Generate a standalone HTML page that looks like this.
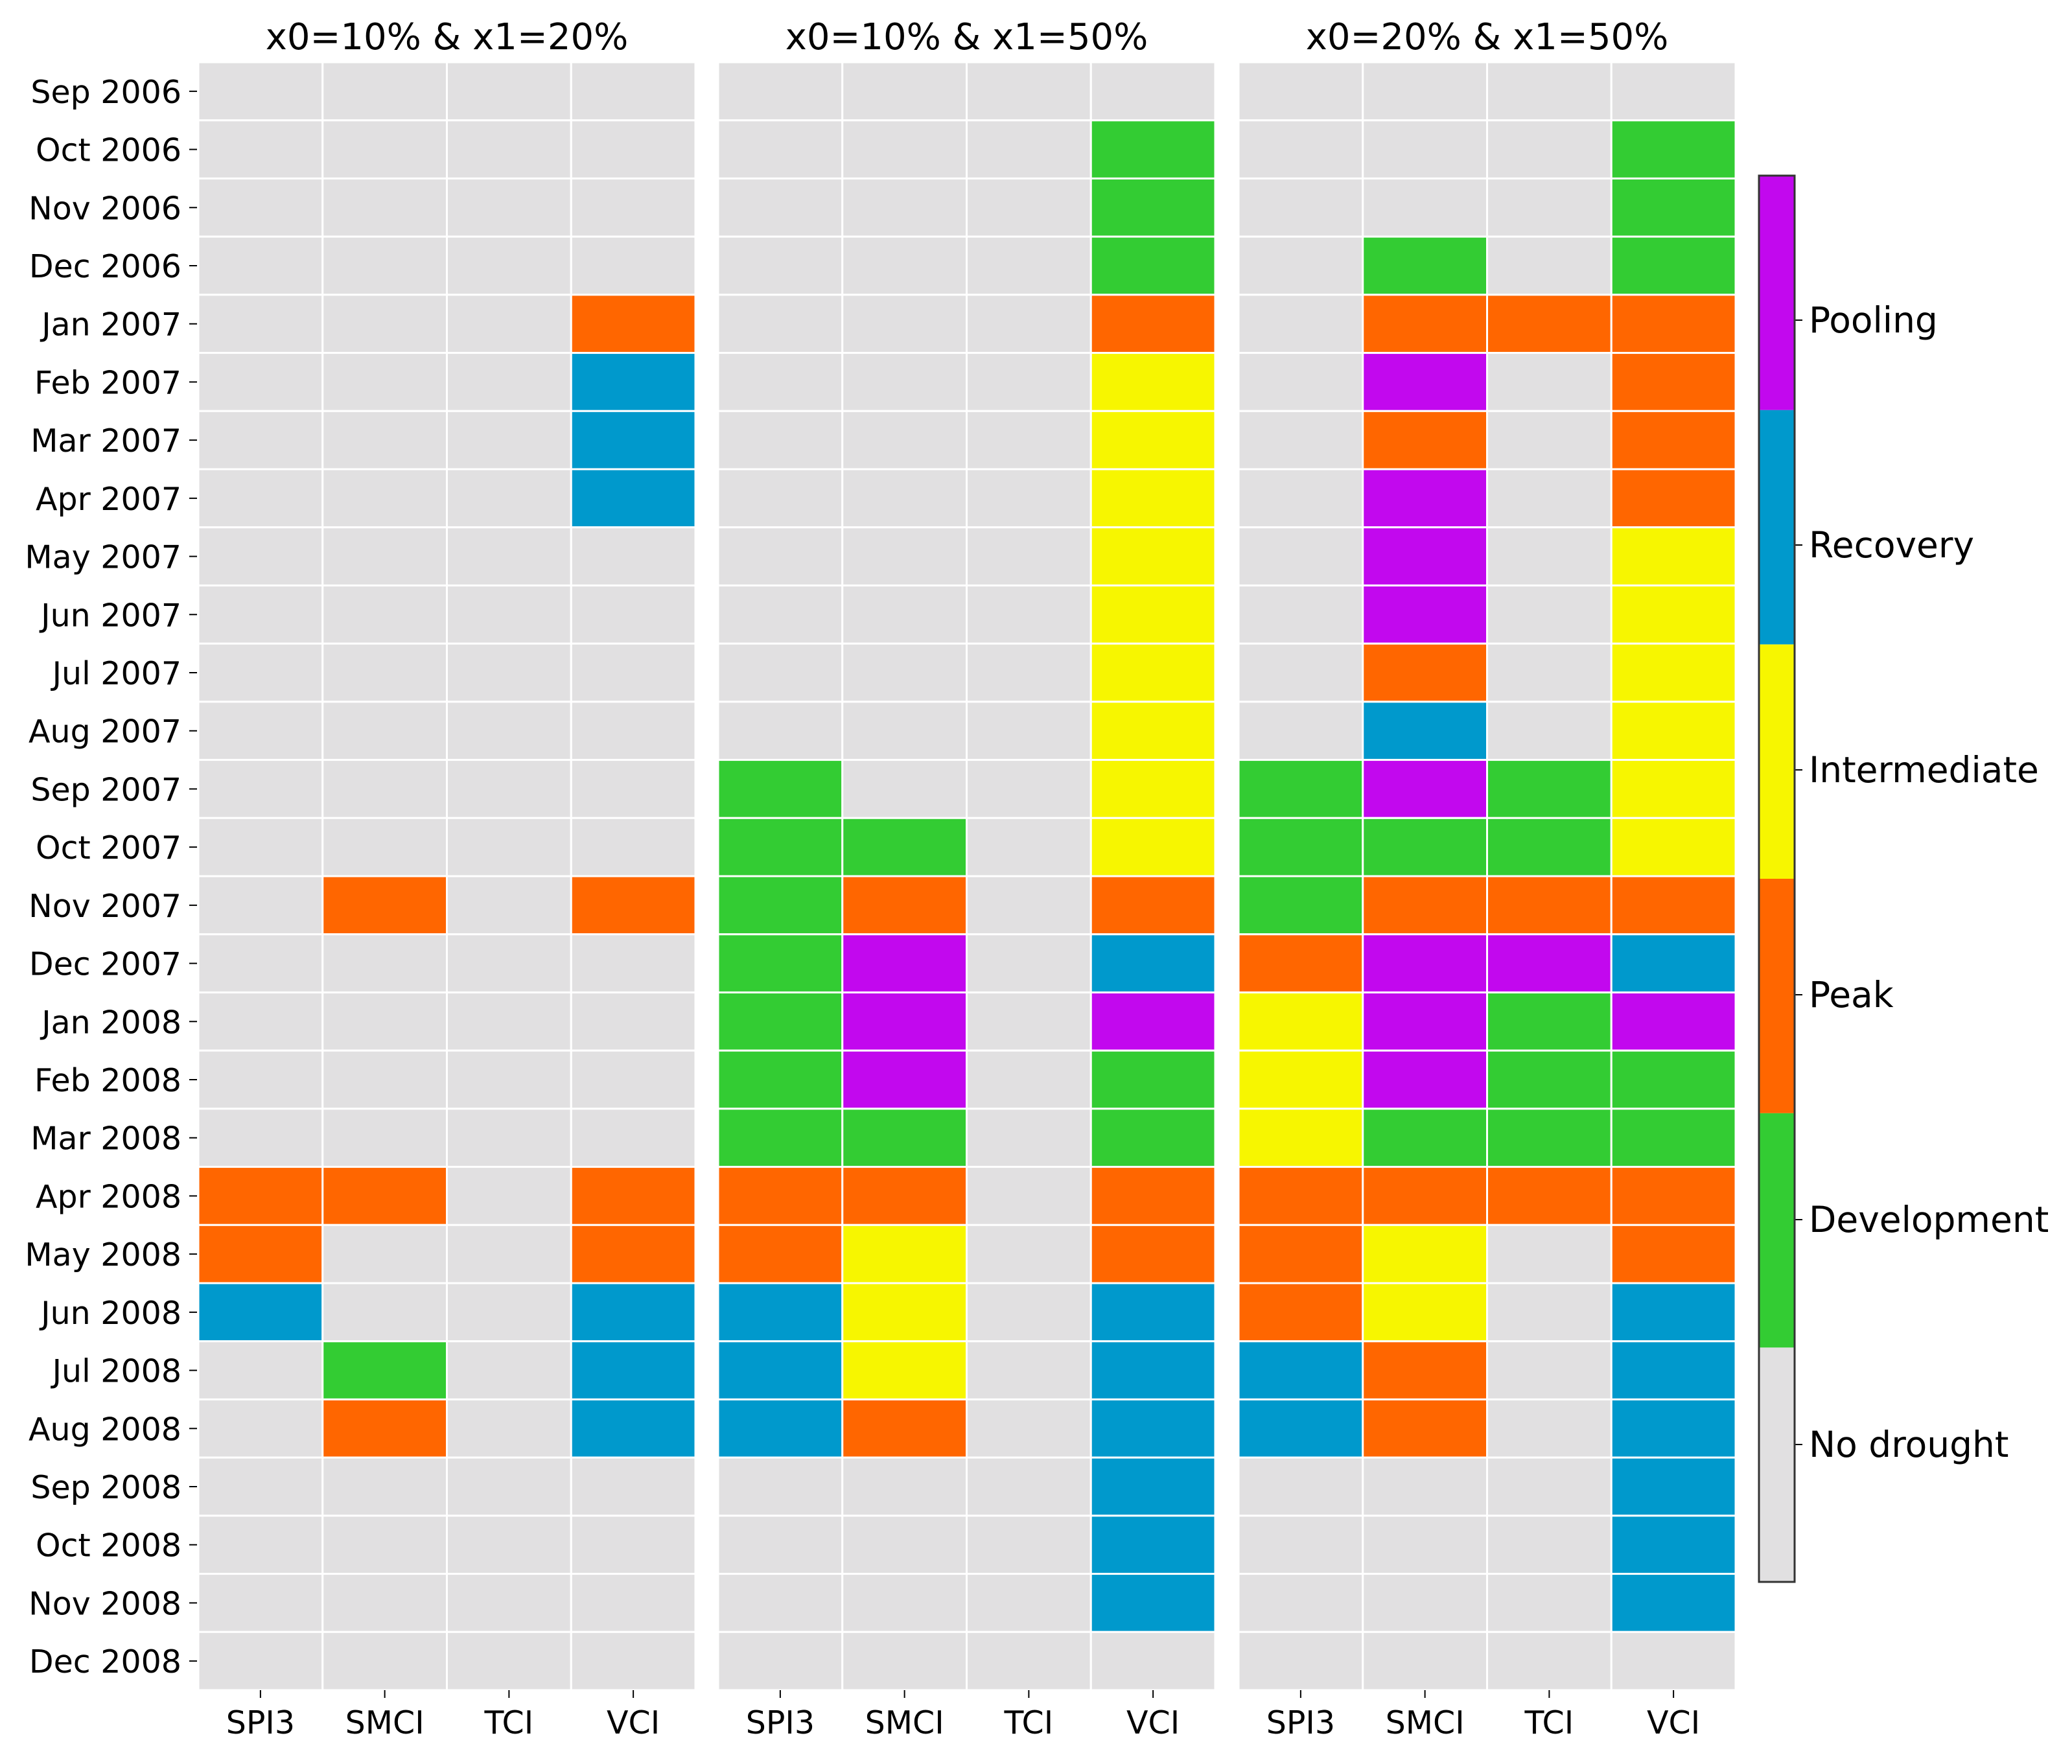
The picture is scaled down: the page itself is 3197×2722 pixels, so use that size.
<!DOCTYPE html>
<html><head><meta charset="utf-8"><style>
html,body{margin:0;padding:0;background:#fff;}
svg{display:block;font-family:"DejaVu Sans","Liberation Sans",sans-serif;}
</style></head><body>
<svg id="chart" width="3197" height="2722" viewBox="0 0 3197 2722" xmlns="http://www.w3.org/2000/svg"></svg>
<script>
const months = ["Sep 2006","Oct 2006","Nov 2006","Dec 2006","Jan 2007","Feb 2007","Mar 2007","Apr 2007","May 2007","Jun 2007","Jul 2007","Aug 2007","Sep 2007","Oct 2007","Nov 2007","Dec 2007","Jan 2008","Feb 2008","Mar 2008","Apr 2008","May 2008","Jun 2008","Jul 2008","Aug 2008","Sep 2008","Oct 2008","Nov 2008","Dec 2008"];
const indices = ["SPI3","SMCI","TCI","VCI"];
const panelTitles = ["x0=10% & x1=20%","x0=10% & x1=50%","x0=20% & x1=50%"];
const stageNames = ["No drought","Development","Peak","Intermediate","Recovery","Pooling"];
// 0 none,1 dev,2 peak,3 inter,4 recovery,5 pooling ; one string per index, one char per month
const p1SPI3 = "0000000000000000000224000000";
const p1SMCI = "0000000000000020000200120000";
const p1TCI  = "0000000000000000000000000000";
const p1VCI  = "0000244400000020000224440000";
const p2SPI3 = "0000000000001111111224440000";
const p2SMCI = "0000000000000125551233320000";
const p2TCI  = "0000000000000000000000000000";
const p2VCI  = "0111233333333324511224444440";
const p3SPI3 = "0000000000001112333222440000";
const p3SMCI = "0001252555245125551233220000";
const p3TCI  = "0000200000001125111200000000";
const p3VCI  = "0111222233333324511224444440";
const panelData = [[p1SPI3,p1SMCI,p1TCI,p1VCI],[p2SPI3,p2SMCI,p2TCI,p2VCI],[p3SPI3,p3SMCI,p3TCI,p3VCI]];

const colors = ["#e1e0e1","#33cc33","#ff6600","#f7f600","#0099cc","#c208ee"];
const svg = document.getElementById('chart');
const NS = "http://www.w3.org/2000/svg";
const panelLeft = [306,1108,1911];
const panelW = 767, top0 = 96, bottom0 = 2608;
const rowH = (bottom0 - top0) / months.length;
const colW = panelW / indices.length;
function yPos(i){ return top0 + i*rowH; }
function xPos(p,j){ return panelLeft[p] + j*colW; }
function mk(tag, attrs){ const e=document.createElementNS(NS,tag); for(const k in attrs) e.setAttribute(k,attrs[k]); svg.appendChild(e); return e; }

for(let p=0;p<3;p++){
  const t = mk('text',{x:panelLeft[p]+panelW/2,y:76,'text-anchor':'middle','font-size':56,fill:'#000'});
  t.textContent = panelTitles[p];
  
  
  for(let j=0;j<indices.length;j++){
    const s = panelData[p][j];
    for(let i=0;i<months.length;i++){
      const v = +s[i];
      const r = mk('rect',{x:xPos(p,j),y:yPos(i),width:colW,height:rowH,fill:colors[v],stroke:'#fff','stroke-width':3});
      
      
    }
    const xl = mk('text',{x:xPos(p,j)+colW/2,y:2675,'text-anchor':'middle','font-size':49,fill:'#000'});
    xl.textContent = indices[j];
    
    
    mk('line',{x1:xPos(p,j)+colW/2,x2:xPos(p,j)+colW/2,y1:bottom0,y2:bottom0+12,stroke:'#000','stroke-width':2});
  }
}
for(let i=0;i<months.length;i++){
  const yc = yPos(i)+rowH/2;
  const l = mk('text',{x:280,y:yc+18,'text-anchor':'end','font-size':49,fill:'#000'});
  l.textContent = months[i];
  
  
  mk('line',{x1:292,x2:304,y1:yc,y2:yc,stroke:'#000','stroke-width':2});
}
// colorbar
const cbX=2714, cbW=55, cbT=271, cbB=2441;
const segH=(cbB-cbT)/stageNames.length;
const tickFirst=2229, tickStep=347;
for(let k=0;k<stageNames.length;k++){
  const y0 = cbB-(k+1)*segH;
  const r = mk('rect',{x:cbX,y:y0,width:cbW,height:segH,fill:colors[k]});
  
  
  const ty = tickFirst - k*tickStep;
  mk('line',{x1:cbX+cbW,x2:cbX+cbW+12,y1:ty,y2:ty,stroke:'#000','stroke-width':2});
  const t = mk('text',{x:cbX+cbW+22,y:ty+19,'font-size':55,fill:'#000'});
  t.textContent = stageNames[k];
  
  
}
const fr = mk('rect',{x:cbX,y:cbT,width:cbW,height:cbB-cbT,fill:'none',stroke:'#333','stroke-width':3});


</script>
</body></html>
